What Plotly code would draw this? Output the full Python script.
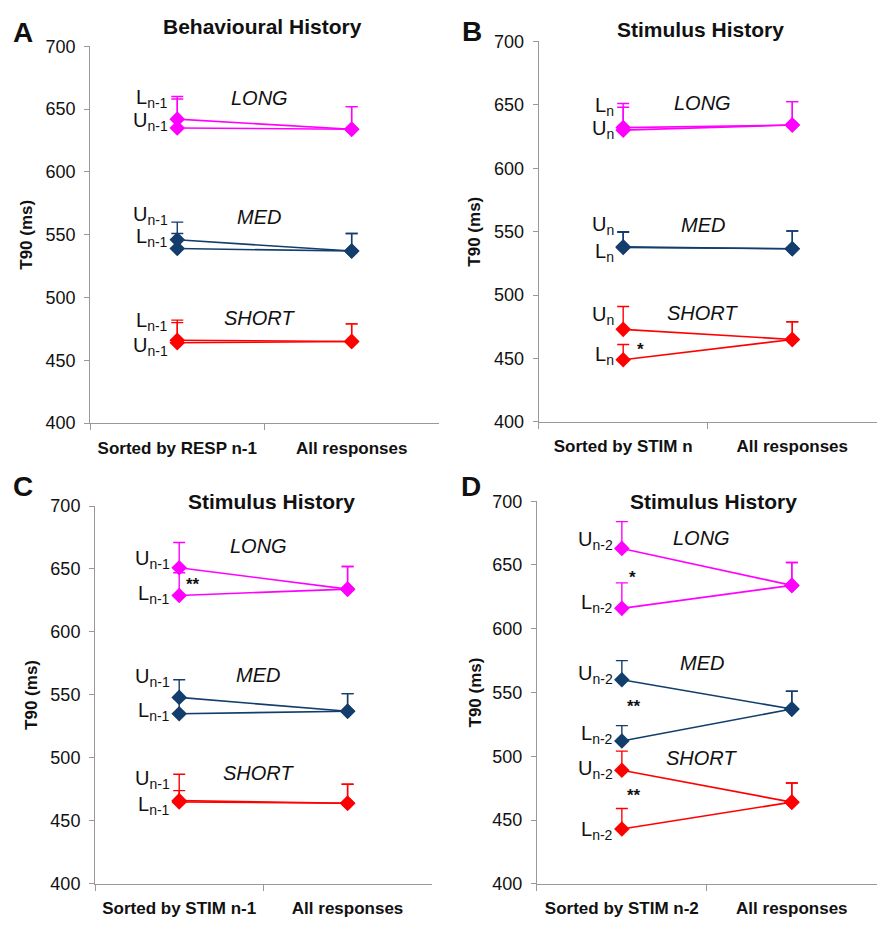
import plotly.graph_objects as go

# ---------------- data (T90, ms) ----------------
GROUPS = ["LONG", "MED", "SHORT"]
COLORS = ["#FF00FF", "#133D6C", "#FF0000"]

A_CATS = ["Sorted by RESP n-1", "All responses"]
A_U = [635, 546, 464]
A_U_ERR = [23, 14, 16]
A_L = [642, 539, 466]
A_L_ERR = [18, 12, 16]
A_ALL = [634, 537, 465]
A_ALL_ERR = [18, 14, 14]

B_CATS = ["Sorted by STIM n", "All responses"]
B_U = [630, 538, 473]
B_U_ERR = [18, 12, 18]
B_L = [632, 537.5, 449]
B_L_ERR = [19, 12, 12]
B_ALL = [634, 536.5, 465]
B_ALL_ERR = [18.5, 14, 14]

C_CATS = ["Sorted by STIM n-1", "All responses"]
C_U = [651, 548, 466]
C_U_ERR = [20, 14, 21]
C_L = [629, 535, 465]
C_L_ERR = [18, 12, 9]
C_ALL = [634, 537, 464]
C_ALL_ERR = [18, 14, 15]

D_CATS = ["Sorted by STIM n-2", "All responses"]
D_U = [663, 560, 489]
D_U_ERR = [21, 15, 15]
D_L = [616, 512, 443]
D_L_ERR = [20, 12, 16]
D_ALL = [634, 537, 464]
D_ALL_ERR = [18, 14, 15]

TITLES = ["Behavioural History", "Stimulus History", "Stimulus History", "Stimulus History"]
LETTERS = ["A", "B", "C", "D"]
SUBS = ["n-1", "n", "n-1", "n-2"]

# label positions (y value of U / L text labels) per group
A_U_LAB = [640.5, 565, 461]
A_L_LAB = [658.5, 548, 481]
B_U_LAB = [630.5, 555, 484]
B_L_LAB = [649, 533.5, 452.5]
C_U_LAB = [657.5, 563.5, 482.5]
C_L_LAB = [630, 537, 462]
D_U_LAB = [669, 564.5, 490]
D_L_LAB = [619.5, 517, 442]
GROUP_LAB_Y = [[659, 564, 484], [651, 555, 486], [668, 566, 488], [671, 573, 499]]

# significance stars: (text, x in category units, y)
STARS = [[], [("*", 0.10, 457)], [("**", 0.08, 638)],
         [("*", 0.06, 640), ("**", 0.07, 539), ("**", 0.07, 469)]]

# ---------------- layout ----------------
W, H = 883, 928
DOMX = [(0.102, 0.497), (0.610, 0.993), (0.1076, 0.489), (0.608, 0.993)]
DOMY = [(0.545, 0.960), (0.5463, 0.9655), (0.0377, 0.4537), (0.0377, 0.459)]
TITLE_XY = [(262, 17), (700, 20), (271, 502), (713, 502)]
LETTER_XY = [(23, 23), (472, 22), (23, 487), (471, 487)]
YTITLE_X = [27, 475, 32, 475]

FONT = "Liberation Sans, Arial, sans-serif"
AXC = "#999999"

panels = [
    (A_CATS, A_U, A_U_ERR, A_L, A_L_ERR, A_ALL, A_ALL_ERR, A_U_LAB, A_L_LAB),
    (B_CATS, B_U, B_U_ERR, B_L, B_L_ERR, B_ALL, B_ALL_ERR, B_U_LAB, B_L_LAB),
    (C_CATS, C_U, C_U_ERR, C_L, C_L_ERR, C_ALL, C_ALL_ERR, C_U_LAB, C_L_LAB),
    (D_CATS, D_U, D_U_ERR, D_L, D_L_ERR, D_ALL, D_ALL_ERR, D_U_LAB, D_L_LAB),
]

fig = go.Figure()
annotations = []
layout = {}

for p, (cats, U, UE, L, LE, ALL, ALLE, ULAB, LLAB) in enumerate(panels):
    xa = "x" if p == 0 else f"x{p+1}"
    ya = "y" if p == 0 else f"y{p+1}"
    for g in range(3):
        for vals, errs in ((U, UE), (L, LE)):
            fig.add_trace(go.Scatter(
                x=cats, y=[vals[g], ALL[g]], xaxis=xa, yaxis=ya,
                mode="lines+markers",
                line=dict(color=COLORS[g], width=1.6),
                marker=dict(symbol="diamond", size=12, color=COLORS[g]),
                error_y=dict(type="data", symmetric=False,
                             array=[errs[g], ALLE[g]], arrayminus=[0, 0],
                             color=COLORS[g], thickness=1.4, width=6),
                showlegend=False, hoverinfo="skip"))
        # U / L labels
        for letter, yv in (("U", ULAB[g]), ("L", LLAB[g])):
            annotations.append(dict(
                x=0, y=yv, xref=xa, yref=ya, xanchor="right", yanchor="middle",
                xshift=-7, showarrow=False,
                text=f"{letter}<sub>{SUBS[p]}</sub>",
                font=dict(family=FONT, size=20, color="#111")))
        # group label
        annotations.append(dict(
            x=0.47, y=GROUP_LAB_Y[p][g], xref=xa, yref=ya, showarrow=False,
            xanchor="center", yanchor="middle",
            text=f"<i>{GROUPS[g]}</i>",
            font=dict(family=FONT, size=20, color="#111")))
    for txt, sx, sy in STARS[p]:
        annotations.append(dict(
            x=sx, y=sy, xref=xa, yref=ya, showarrow=False,
            xanchor="center", yanchor="middle", text=f"<b>{txt}</b>",
            font=dict(family=FONT, size=17, color="#111")))

    layout["xaxis" if p == 0 else f"xaxis{p+1}"] = dict(
        domain=list(DOMX[p]), anchor=ya, type="category",
        categoryorder="array", categoryarray=cats, range=[-0.5, 1.5],
        tickson="boundaries", ticks="outside", ticklen=6, tickcolor=AXC,
        ticklabelstandoff=9,
        showline=True, linecolor=AXC, linewidth=1, showgrid=False,
        zeroline=False, fixedrange=True,
        tickfont=dict(family=FONT, size=17, color="#111", weight="bold"))
    layout["yaxis" if p == 0 else f"yaxis{p+1}"] = dict(
        domain=list(DOMY[p]), anchor=xa, range=[400, 700],
        tickvals=[400, 450, 500, 550, 600, 650, 700],
        ticks="outside", ticklen=5, tickcolor=AXC,
        ticklabelstandoff=5,
        showline=True, linecolor=AXC, linewidth=1, showgrid=False,
        zeroline=False, fixedrange=True,
        tickfont=dict(family=FONT, size=18, color="#111"))

    tx, ty = TITLE_XY[p]
    annotations.append(dict(
        x=tx / W, y=1 - ty / H, xref="paper", yref="paper", showarrow=False,
        xanchor="center", yanchor="middle", text=f"<b>{TITLES[p]}</b>",
        font=dict(family=FONT, size=21, color="#111")))
    lx, ly = LETTER_XY[p]
    annotations.append(dict(
        x=lx / W, y=1 - ly / H, xref="paper", yref="paper", showarrow=False,
        xanchor="center", yanchor="middle", text=f"<b>{LETTERS[p]}</b>",
        font=dict(family=FONT, size=28, color="#111")))
    ymid = (DOMY[p][0] + DOMY[p][1]) / 2
    annotations.append(dict(
        x=YTITLE_X[p] / W, y=ymid, xref="paper", yref="paper", showarrow=False,
        xanchor="center", yanchor="middle", textangle=-90,
        text="<b>T90 (ms)</b>",
        font=dict(family=FONT, size=17, color="#111")))

fig.update_layout(
    width=W, height=H, margin=dict(l=0, r=0, t=0, b=0),
    paper_bgcolor="white", plot_bgcolor="white",
    annotations=annotations, **layout)

fig.write_html("out.html", config={"displayModeBar": False},
               post_script="document.body.style.margin='0';")
